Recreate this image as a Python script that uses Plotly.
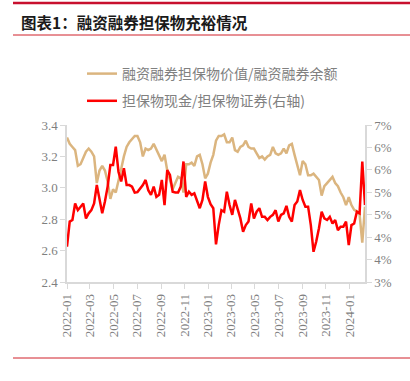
import pandas as pd
import plotly.graph_objects as go

# Weekly observations, 2022-01 to 2024-02
dates = pd.date_range("2022-01-01", periods=111, freq="7D")

collateral_ratio = [
    3.32, 3.28, 3.26, 3.24, 3.14, 3.15, 3.19, 3.23, 3.25, 3.23,
    3.20, 3.03, 3.11, 3.14, 3.11, 3.04, 2.93, 2.99, 2.97, 3.04,
    3.12, 3.20, 3.26, 3.29, 3.31, 3.33, 3.33, 3.29, 3.20, 3.25,
    3.24, 3.25, 3.28, 3.24, 3.21, 3.17, 3.21, 3.11, 3.05, 2.99,
    3.03, 3.07, 3.06, 2.97, 3.15, 3.15, 3.16, 3.14, 3.20, 3.21,
    3.15, 3.06, 3.09, 3.16, 3.21, 3.30, 3.33, 3.33, 3.34, 3.29,
    3.29, 3.32, 3.24, 3.23, 3.26, 3.27, 3.30, 3.26, 3.25, 3.25,
    3.22, 3.19, 3.20, 3.18, 3.20, 3.21, 3.26, 3.22, 3.21, 3.22,
    3.25, 3.22, 3.27, 3.28, 3.21, 3.15, 3.08, 3.17, 3.15, 3.08,
    3.08, 3.09, 3.07, 3.05, 2.95, 3.01, 3.03, 3.05, 3.07, 3.03,
    3.01, 2.97, 2.94, 2.89, 2.94, 2.89, 2.86, 2.85, 2.83, 2.65,
    2.88,
]

cash_to_securities = [
    3.90, 4.54, 4.58, 5.00, 4.83, 4.92, 5.00, 4.62, 4.75, 4.83,
    5.00, 5.47, 5.13, 4.75, 5.05, 5.43, 5.98, 5.98, 6.45, 5.81,
    5.56, 5.90, 5.47, 5.47, 5.43, 5.28, 5.29, 5.37, 5.47, 5.60,
    5.34, 5.22, 5.43, 5.17, 5.22, 5.60, 4.96, 5.85, 5.73, 5.30,
    5.28, 5.28, 5.43, 6.07, 5.17, 5.30, 5.22, 5.26, 5.09, 4.88,
    5.09, 5.56, 5.17, 4.98, 4.88, 3.96, 4.45, 4.83, 4.79, 5.30,
    4.96, 4.71, 5.09, 4.83, 4.62, 4.28, 4.45, 4.54, 5.00, 4.62,
    4.79, 4.88, 4.66, 4.66, 4.58, 4.66, 4.71, 4.83, 4.54, 4.71,
    4.75, 4.94, 4.66, 4.54, 4.96, 5.05, 5.34, 5.09, 4.92, 4.92,
    4.45, 3.77, 4.03, 4.37, 4.79, 4.62, 4.58, 4.66, 4.49, 4.58,
    4.32, 4.41, 4.41, 4.54, 3.94, 4.45, 4.49, 4.79, 4.75, 6.07,
    4.96,
]

series_names = ["融资融券担保物价值/融资融券余额", "担保物现金/担保物证券(右轴)"]
title_text = "图表1：融资融券担保物充裕情况"

left_ticks = [2.4, 2.6, 2.8, 3.0, 3.2, 3.4]
right_tickvals = [3 + 4 * k / 7 for k in range(8)]
right_ticktext = [f"{round(v)}%" for v in right_tickvals]

W, H = 410, 381
ML, MR, MT, MB = 67, 45, 125, 99
PW, PH = W - ML - MR, H - MT - MB


def px_x(x):
    return (x - ML) / PW


def px_y(y):
    return (H - MB - y) / PH


GOLD = "#DBB57F"
RED = "#FF0000"
AXIS = "#D9D9D9"
TICKFONT = dict(family="Liberation Serif, Times New Roman, serif", size=13, color="#7F7F7F")

fig = go.Figure()
fig.add_trace(go.Scatter(
    x=dates, y=collateral_ratio, name=series_names[0], mode="lines",
    line=dict(color=GOLD, width=2.5), legendgroup="a", yaxis="y",
))
fig.add_trace(go.Scatter(
    x=dates, y=cash_to_securities, name=series_names[1], mode="lines",
    line=dict(color=RED, width=2.5), legendgroup="b", yaxis="y2",
))

fig.update_layout(
    width=W, height=H,
    margin=dict(l=ML, r=MR, t=MT, b=MB, autoexpand=False),
    paper_bgcolor="white", plot_bgcolor="white",
    showlegend=True,
    legend=dict(
        x=px_x(82), y=px_y(58), xanchor="left", yanchor="top",
        orientation="v", tracegroupgap=6,
        font=dict(family="Noto Sans CJK SC", size=14, color="#808080"),
        bgcolor="rgba(0,0,0,0)", itemwidth=30,
    ),
    xaxis=dict(
        type="date", range=[dates[0], dates[-1]],
        tick0="2022-01-01", dtick="M2", tickformat="%Y-%m",
        tickangle=-90, tickfont=TICKFONT,
        showgrid=False, zeroline=False,
        showline=True, linecolor=AXIS, linewidth=1.5,
        ticks="outside", ticklen=5, tickcolor=AXIS,
    ),
    yaxis=dict(
        range=[2.4, 3.4], tickvals=left_ticks,
        ticktext=[f"{v:.1f}" for v in left_ticks],
        tickfont=TICKFONT, showgrid=False, zeroline=False,
        showline=True, linecolor=AXIS, linewidth=1.5,
        ticks="outside", ticklen=5, tickcolor=AXIS,
    ),
    yaxis2=dict(
        range=[3, 7], overlaying="y", side="right",
        tickvals=right_tickvals, ticktext=right_ticktext,
        tickfont=TICKFONT, showgrid=False, zeroline=False,
        showline=True, linecolor=AXIS, linewidth=1.5,
        ticks="outside", ticklen=5, tickcolor=AXIS,
    ),
)

# Title and report rules
fig.add_annotation(
    text=f"<b>{title_text}</b>", xref="paper", yref="paper",
    x=px_x(19), y=px_y(22), xanchor="left", yanchor="middle",
    showarrow=False, font=dict(family="Noto Sans CJK SC", size=15.5, color="#1A1A1A"),
)
fig.add_shape(type="line", xref="paper", yref="paper",
              x0=px_x(13), x1=px_x(410), y0=px_y(3), y1=px_y(3),
              line=dict(color="#C8102E", width=2.5))
fig.add_shape(type="line", xref="paper", yref="paper",
              x0=px_x(13), x1=px_x(410), y0=px_y(35), y1=px_y(35),
              line=dict(color="#D0202A", width=1))
fig.add_shape(type="line", xref="paper", yref="paper",
              x0=px_x(13), x1=px_x(410), y0=px_y(358), y1=px_y(358),
              line=dict(color="#D0202A", width=1))

fig.write_html(
    "out.html",
    config={"displayModeBar": False},
    post_script="document.body.style.margin='0';document.body.style.padding='0';",
)
